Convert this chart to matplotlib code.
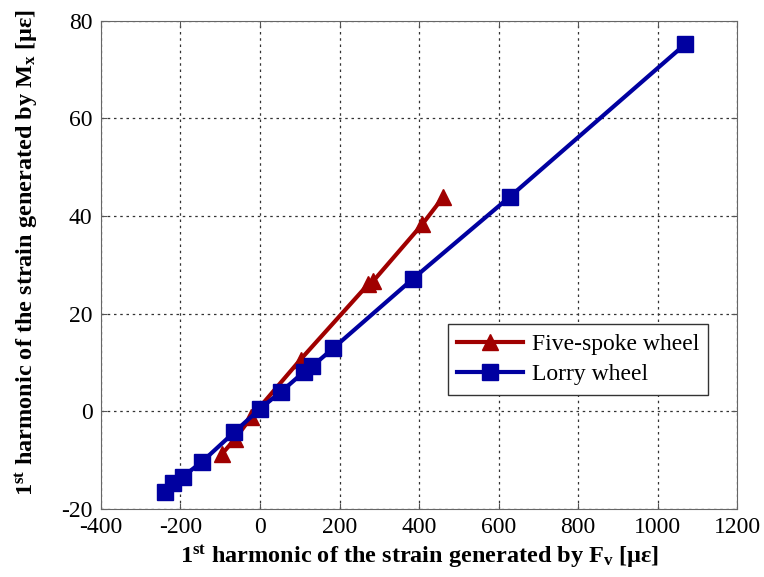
import matplotlib
matplotlib.use('Agg')
from matplotlib import pyplot as plt

# strain harmonics [micro-strain]
five_spoke_fv = [-95, -62, -22, 102, 272, 284, 408, 460]
five_spoke_mx = [-8.7, -5.6, -1.2, 10.6, 26.0, 26.6, 38.3, 43.8]

lorry_fv = [-239, -219, -194, -145, -65, 0, 53, 111, 131, 184, 384, 629, 1069]
lorry_mx = [-16.5, -14.6, -13.4, -10.3, -4.3, 0.5, 4.0, 8.1, 9.2, 12.9, 27.1, 44.0, 75.2]

x_ticks = [-400, -200, 0, 200, 400, 600, 800, 1000, 1200]
y_ticks = [-20, 0, 20, 40, 60, 80]

plt.rcParams['font.family'] = ['Liberation Serif', 'DejaVu Serif']
plt.rcParams['mathtext.fontset'] = 'custom'
plt.rcParams['mathtext.rm'] = 'Liberation Serif'
plt.rcParams['mathtext.bf'] = 'Liberation Serif:bold'
plt.rcParams['mathtext.it'] = 'Liberation Serif:italic'
plt.rcParams['axes.unicode_minus'] = False

red = '#a00000'
blue = '#0000a0'

fig = plt.figure(figsize=(7.64, 5.77), dpi=100)
ax = fig.add_axes([0.132, 0.118, 0.833, 0.846])

ax.plot(five_spoke_fv, five_spoke_mx, '-^', color=red, lw=3, ms=12,
        label='Five-spoke wheel')
ax.plot(lorry_fv, lorry_mx, '-s', color=blue, lw=3, ms=11,
        label='Lorry wheel')

ax.set_xlim(-400, 1200)
ax.set_ylim(-20, 80)
ax.set_xticks(x_ticks)
ax.set_yticks(y_ticks)
ax.tick_params(direction='in', top=True, right=True, labelsize=17,
               color='#555555', length=4, pad=6)
for sp in ax.spines.values():
    sp.set_color('#666666')
ax.grid(True, color='#333333', linestyle=(0, (2, 3)), lw=0.9)

ax.set_xlabel(r'1$^{\mathbf{st}}$ harmonic of the strain generated by F$_{\mathbf{v}}$ [με]',
              fontsize=17.5, fontweight='bold', labelpad=4)
ax.set_ylabel(r'1$^{\mathbf{st}}$ harmonic of the strain generated by M$_{\mathbf{x}}$ [με]',
              fontsize=17.5, fontweight='bold')
ax.yaxis.set_label_coords(-0.095, 0.525)

leg = ax.legend(loc='upper left', bbox_to_anchor=(0.545, 0.378), fontsize=17,
                fancybox=False, framealpha=1, edgecolor='#333333',
                handlelength=2.8, handletextpad=0.35, borderpad=0.4,
                labelspacing=0.35, borderaxespad=0)
leg.get_frame().set_linewidth(1.0)

fig.savefig('out.png', dpi=100)
